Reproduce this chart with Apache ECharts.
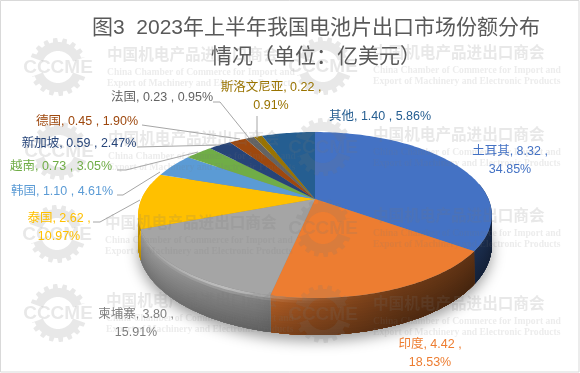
<!DOCTYPE html>
<html>
<head>
<meta charset="utf-8">
<style>
  html, body { margin: 0; padding: 0; background: #fff; }
  #main { width: 580px; height: 373px; }
</style>
<script src="https://cdn.jsdelivr.net/npm/echarts@6/dist/echarts.min.js"></script>
</head>
<body>
<div id="main"></div>
<script>
// 数据
var categories = ['土耳其', '印度', '柬埔寨', '泰国', '韩国', '越南', '新加坡', '德国', '法国', '斯洛文尼亚', '其他'];
var amounts = [8.32, 4.42, 3.80, 2.62, 1.10, 0.73, 0.59, 0.45, 0.23, 0.22, 1.40];
var shares = [34.85, 18.53, 15.91, 10.97, 4.61, 3.05, 2.47, 1.90, 0.95, 0.91, 5.86];
var colors = ['#4472C4', '#ED7D31', '#A5A5A5', '#FFC000', '#5B9BD5', '#70AD47', '#264478', '#9E480E', '#636363', '#997300', '#255E91'];
var labelColors = ['#4472C4', '#ED7D31', '#7F7F7F', '#FFC000', '#5B9BD5', '#70AD47', '#264478', '#9E480E', '#636363', '#997300', '#255E91'];

var titleText = '图3  2023年上半年我国电池片出口市场份额分布\n情况（单位：亿美元）';

// 版面：饼的透视参数
var apexX = 315, apexY = 199, radX = 173.5, radY = 79.9, persp = 0.193, depth = 37;
var fontName = '"Liberation Sans", "Noto Sans CJK SC", sans-serif';

// 标签位置 [中心x, 中心y, 是否两行]
var labelLayout = [
  [510, 161, true], [430, 354, true], [136, 324, true], [59, 228, true],
  [62, 192, false], [61, 167, false], [79, 144, false], [87, 122, false],
  [162, 98, false], [271, 97, true], [380, 117, false]
];
// 引导线
var leaderLines = [
  null, null, null,
  [[93, 222], [100, 222], [140, 200]],
  [[117, 195], [123, 195], [160, 172]],
  [[117, 170], [126, 170], [198, 152]],
  [[137, 147], [220, 145]],
  [[142, 125], [240, 139]],
  [[213, 102], [220, 102], [249, 138]],
  [[257, 116], [257, 138]],
  null
];
// 水印位置 [logo中心x, logo中心y, 文字x, 中文y]
var marks = [
  [58, 67, 107, 54], [323, 66, 373, 52],
  [59, 151, 108, 138], [323, 147, 373, 134],
  [57, 234, 105, 222], [323, 228, 373, 215],
  [58, 313, 106, 300], [323, 314, 373, 303]
];

var total = amounts.reduce(function (a, b) { return a + b; }, 0);
var cum = [0];
amounts.forEach(function (v, i) { cum.push(cum[i] + v); });

function project(theta, t) {
  var u = Math.sin(theta), v = -Math.cos(theta);
  var d = 1 - persp * v;
  // 侧面向下的深度随前后略有收缩
  var dy = (t || 0) * (0.75 + 0.25 * v);
  return [apexX + radX * u / d, apexY + radY * v / d + dy];
}

function sliceAngles(i) {
  return [cum[i] / total * Math.PI * 2, cum[i + 1] / total * Math.PI * 2];
}

function rgb(hex) {
  return [parseInt(hex.substr(1, 2), 16), parseInt(hex.substr(3, 2), 16), parseInt(hex.substr(5, 2), 16)];
}

function lerpTable(x, table) {
  if (x <= table[0][0]) return table[0][1];
  for (var i = 1; i < table.length; i++) {
    if (x <= table[i][0]) {
      var a = table[i - 1], b = table[i];
      return a[1] + (b[1] - a[1]) * (x - a[0]) / (b[0] - a[0]);
    }
  }
  return table[table.length - 1][1];
}

var sideLight = [[137, 0.95], [260, 0.80], [300, 0.66], [400, 0.46], [470, 0.40], [492, 0.38]];

// 侧面的明暗
function sideColor(hex, x, t) {
  var c = rgb(hex);
  var f = lerpTable(x, sideLight) * (1 - 0.28 * t / depth);
  var glow = t < 4 ? 0.42 * (1 - t / 4) * Math.exp(-Math.pow((x - 225) / 65, 2)) : 0;
  return 'rgb(' + c.map(function (n) {
    var s = n * f;
    return Math.round(s + (255 - s) * glow);
  }).join(',') + ')';
}

function sidePoints(a, b, t0) {
  var pts = [], back = [], n = Math.max(2, Math.ceil((b - a) / 0.02));
  for (var k = 0; k <= n; k++) {
    var th = a + (b - a) * k / n;
    if (-Math.cos(th) < -0.2) continue;
    pts.push(project(th, t0));
    back.unshift(project(th, depth));
  }
  return pts.concat(back);
}

function renderSide(params, api) {
  var i = params.dataIndex;
  var ang = sliceAngles(i);
  var children = [];
  if (i === 0) {
    var ring = [];
    for (var k = 0; k < 180; k++) ring.push(project(k / 180 * Math.PI * 2, depth));
    children.push({
      type: 'polygon',
      shape: { points: ring },
      style: { fill: '#888', shadowBlur: 14, shadowOffsetY: 6, shadowColor: 'rgba(0,0,0,0.38)' }
    });
  }
  var bands = 14;
  for (var b = 0; b < bands; b++) {
    var t = depth * b / bands;
    var pts = sidePoints(ang[0], ang[1], t);
    if (pts.length < 3) continue;
    var stops = [];
    for (var s = 0; s <= 12; s++) {
      stops.push({ offset: s / 12, color: sideColor(colors[i], 137 + 355 * s / 12, t) });
    }
    children.push({
      type: 'polygon',
      shape: { points: pts },
      style: { fill: new echarts.graphic.LinearGradient(137, 0, 492, 0, stops, true) }
    });
  }
  return { type: 'group', children: children };
}

function renderTop(params, api) {
  var i = params.dataIndex;
  var ang = sliceAngles(i);
  var pts = [[apexX, apexY]];
  var n = Math.max(2, Math.ceil((ang[1] - ang[0]) / 0.02));
  for (var k = 0; k <= n; k++) pts.push(project(ang[0] + (ang[1] - ang[0]) * k / n, 0));
  return { type: 'polygon', shape: { points: pts }, style: { fill: colors[i] } };
}

function renderLabel(params, api) {
  var i = params.dataIndex;
  var pos = labelLayout[i];
  var head = categories[i] + ', ' + api.value(0).toFixed(2) + ' ,';
  var tail = shares[i].toFixed(2) + '%';
  var children = [];
  if (leaderLines[i]) {
    children.push({
      type: 'polyline',
      shape: { points: leaderLines[i] },
      style: { fill: 'none', stroke: '#A6A6A6', lineWidth: 1 }
    });
  }
  children.push({
    type: 'text',
    style: {
      text: pos[2] ? head + '\n' + tail : head + ' ' + tail,
      x: pos[0], y: pos[1],
      align: 'center', verticalAlign: 'middle',
      fontSize: 12.5, lineHeight: 18, fontFamily: fontName,
      fill: labelColors[i]
    }
  });
  return { type: 'group', children: children };
}

// 水印齿轮
var markFill = 'rgba(120,120,120,0.17)';
function gearArc(cx, cy, from, to) {
  var pts = [], steps = 84;
  for (var k = 0; k <= steps; k++) {
    var a = (from + (to - from) * k / steps) * Math.PI / 180;
    var tooth = Math.floor(k / 6) % 2 === 0 ? 29 : 25;
    pts.push([cx + tooth * Math.cos(a), cy + tooth * Math.sin(a)]);
  }
  for (var m = steps; m >= 0; m--) {
    var b = (from + (to - from) * m / steps) * Math.PI / 180;
    pts.push([cx + 16 * Math.cos(b), cy + 16 * Math.sin(b)]);
  }
  return pts;
}

var graphicItems = [{
  type: 'rect', z: 0, silent: true,
  shape: { x: 0.5, y: 0.5, width: 578.5, height: 371.5 },
  style: { fill: 'none', stroke: '#D9D9D9', lineWidth: 1 }
}];
marks.forEach(function (m) {
  [[200, 340], [20, 160]].forEach(function (r) {
    graphicItems.push({
      type: 'polygon', z: 10, silent: true,
      shape: { points: gearArc(m[0], m[1], r[0], r[1]) },
      style: { fill: markFill }
    });
  });
  graphicItems.push({
    type: 'text', z: 10, silent: true,
    style: {
      text: 'CCCME', x: m[0], y: m[1] + 1, align: 'center', verticalAlign: 'middle',
      font: 'bold 19px "Liberation Sans", sans-serif', fill: markFill
    }
  });
  graphicItems.push({
    type: 'text', z: 10, silent: true,
    style: {
      text: '中国机电产品进出口商会', x: m[2], y: m[3], align: 'left', verticalAlign: 'middle',
      font: 'bold 15.6px "Noto Sans CJK SC", sans-serif', fill: markFill
    }
  });
  graphicItems.push({
    type: 'text', z: 10, silent: true,
    style: {
      text: 'China Chamber of Commerce for Import and', x: m[2], y: m[3] + 19, align: 'left', verticalAlign: 'middle',
      font: 'bold 9.6px "Liberation Serif", serif', fill: 'rgba(120,120,120,0.14)'
    }
  });
  graphicItems.push({
    type: 'text', z: 10, silent: true,
    style: {
      text: 'Export of Machinery and Electronic Products', x: m[2], y: m[3] + 30, align: 'left', verticalAlign: 'middle',
      font: 'bold 9.6px "Liberation Serif", serif', fill: 'rgba(120,120,120,0.14)'
    }
  });
});

var myChart = echarts.init(document.getElementById('main'));
myChart.setOption({
  animation: false,
  backgroundColor: '#fff',
  title: {
    text: titleText,
    left: 311,
    top: 9,
    textAlign: 'center',
    textStyle: {
      color: '#595959',
      fontSize: 21,
      fontWeight: 'normal',
      lineHeight: 29,
      fontFamily: fontName
    }
  },
  graphic: { elements: graphicItems },
  series: [
    { type: 'custom', coordinateSystem: 'none', silent: true, z: 2, renderItem: renderSide, data: amounts },
    { type: 'custom', coordinateSystem: 'none', silent: true, z: 3, renderItem: renderTop, data: amounts },
    { type: 'custom', coordinateSystem: 'none', silent: true, z: 20, renderItem: renderLabel, data: amounts }
  ]
});
</script>
</body>
</html>
